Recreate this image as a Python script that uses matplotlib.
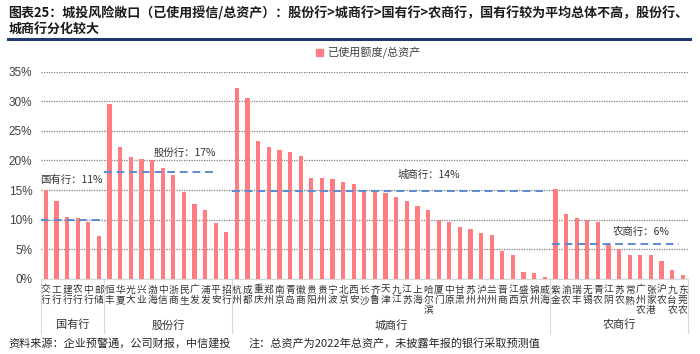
import numpy as np
import matplotlib
matplotlib.use('Agg')
import matplotlib.pyplot as plt
from matplotlib.patches import Patch

plt.rcParams['font.family'] = ['Noto Sans CJK SC', 'DejaVu Sans']

# data (%)
groups = ['国有行', '股份行', '城商行', '农商行']
state_banks = ['交行', '工行', '建行', '农行', '中行', '邮储']
state_vals = [15.0, 13.1, 10.4, 10.3, 9.6, 7.2]
joint_banks = ['恒丰', '华夏', '光大', '兴业', '渤海', '中信', '浙商', '民生',
               '广发', '浦发', '平安', '招行']
joint_vals = [29.5, 22.3, 20.5, 20.2, 20.0, 18.7, 17.5, 14.6, 12.7, 11.6, 9.5, 7.9]
city_banks = ['杭州', '成都', '重庆', '郑州', '南京', '青岛', '徽商', '贵阳', '贵州',
              '宁波', '北京', '西安', '长沙', '齐鲁', '天津', '九江', '江苏', '上海',
              '哈尔滨', '厦门', '中原', '甘肃', '苏州', '泸州', '兰州', '晋商', '江西',
              '盛京', '锦州', '威海']
city_vals = [32.2, 30.6, 23.2, 22.3, 21.7, 21.5, 20.7, 17.1, 17.1, 16.8, 16.3,
             16.1, 15.0, 14.6, 14.5, 13.9, 13.2, 12.3, 11.7, 10.0, 9.6, 8.7, 8.4,
             7.8, 7.4, 4.8, 4.0, 1.2, 1.0, 0.3]
rural_banks = ['紫金', '渝农', '瑞丰', '无锡', '青农', '江阴', '苏农', '常熟',
               '广州农', '张家港', '沪农', '九台农', '东莞农']
rural_vals = [15.2, 10.9, 10.3, 10.0, 9.6, 5.9, 5.0, 4.1, 4.1, 4.0, 3.0, 1.5, 0.6]

avg_lines = [10.0, 18.0, 14.9, 5.9]
avg_labels = ['国有行：11%', '股份行：17%', '城商行：14%', '农商行：6%']

names = state_banks + joint_banks + city_banks + rural_banks
vals = state_vals + joint_vals + city_vals + rural_vals
sizes = [len(state_banks), len(joint_banks), len(city_banks), len(rural_banks)]
x = np.arange(len(names))

fig = plt.figure(figsize=(7, 3.54), dpi=100)
ax = fig.add_axes([0.058, 0.212, 0.925, 0.586])

ax.bar(x, vals, width=0.4, color='#FF7C80', zorder=3)

ax.set_xlim(-0.5, len(names) - 0.5)
ax.set_ylim(0, 35)
ax.set_yticks(np.arange(0, 36, 5))
ax.set_yticklabels([f'{v}%' for v in range(0, 36, 5)], fontsize=8.5,
                   color='#404040', family=['Liberation Sans', 'DejaVu Sans'])
ax.yaxis.grid(True, linestyle=(0, (1, 1)), color='#7f7f7f', linewidth=0.9, zorder=0)
ax.set_axisbelow(True)
for s in ['top', 'right', 'left']:
    ax.spines[s].set_visible(False)
ax.spines['bottom'].set_color('#d9d9d9')
ax.tick_params(axis='both', length=0)
ax.tick_params(axis='y', pad=6)

ax.set_xticks(x)
ax.set_xticklabels(['\n'.join(n) for n in names], fontsize=7,
                   linespacing=1.05, color='#333333')
ax.tick_params(axis='x', pad=4)

# group separators and names
tr = ax.get_xaxis_transform()
edges = np.concatenate([[0], np.cumsum(sizes)]) - 0.5
for e in edges:
    ax.plot([e, e], [0, -0.26], transform=tr, color='#d9d9d9',
            linewidth=0.8, clip_on=False)
for g, a, b in zip(groups, edges[:-1], edges[1:]):
    ax.text((a + b) / 2, -0.222, g, transform=tr, ha='center', va='center',
            fontsize=8, color='#333333')

# average lines
spans = [(-0.5, 5.5), (5.5, 15.9), (17.5, 47.15), (47.7, 59.6)]
lab_pos = [(2.4, 16.7), (13.1, 21.2), (36.1, 17.5), (56.1, 8.0)]
for v, (a, b), lab, (lx, ly) in zip(avg_lines, spans, avg_labels, lab_pos):
    ax.plot([a, b], [v, v], color='#5B8BD0', linestyle=(0, (4, 2.5)),
            linewidth=1.4, zorder=4)
    ax.text(lx, ly, lab, ha='center', va='center', fontsize=7.5, color='#333333',
            zorder=5)

ax.legend(handles=[Patch(color='#FF7C80', label='已使用额度/总资产')],
          loc='center', bbox_to_anchor=(0.527, 0.85), bbox_transform=fig.transFigure,
          frameon=False, fontsize=8, handlelength=0.6, handleheight=0.6,
          handletextpad=0.5, labelcolor='#404040')

# title, rule, footer
fig.text(0.012, 0.962, '图表25：城投风险敞口（已使用授信/总资产）：股份行>城商行>国有行>农商行，国有行较为平均总体不高，股份行、',
         fontsize=9.35, fontweight='bold', va='center', color='#1a1a1a')
fig.text(0.012, 0.918, '城商行分化较大', fontsize=9.35, fontweight='bold',
         va='center', color='#1a1a1a')
fig.add_artist(plt.Line2D([0.012, 0.986], [0.889, 0.889], color='#1F3A6E',
                          linewidth=2.2, transform=fig.transFigure))
fig.text(0.012, 0.03, '资料来源：企业预警通，公司财报，中信建投', fontsize=8,
         va='center', color='#262626', style='italic')
fig.text(0.355, 0.03, '注：总资产为2022年总资产，未披露年报的银行采取预测值', fontsize=8,
         va='center', color='#262626', style='italic')

fig.savefig('out.png', dpi=100)
